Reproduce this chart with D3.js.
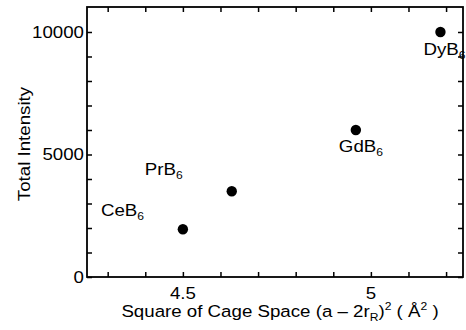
<!DOCTYPE html>
<html>
<head>
<meta charset="utf-8">
<script src="https://cdn.jsdelivr.net/npm/d3@7"></script>
<style>
  html, body { margin: 0; padding: 0; background: #fff; }
  text { font-family: "Liberation Sans", Arial, Helvetica, sans-serif; fill: #000; }
</style>
</head>
<body>
<svg id="chart" width="466" height="330"></svg>
<script>
// Hexaboride compounds: cage space squared vs. total intensity
const compounds = ["CeB", "PrB", "GdB", "DyB"];
const compoundSub = ["6", "6", "6", "6"];
const cageSpace = [4.5, 4.63, 4.96, 5.185];
const intensity = [1950, 3500, 6000, 10000];

const xTickValues = [4.3, 4.4, 4.5, 4.6, 4.7, 4.8, 4.9, 5.0, 5.1, 5.2];
const xTickLabels = { "4.5": "4.5", "5": "5" };
const yTickValues = [0, 1000, 2000, 3000, 4000, 5000, 6000, 7000, 8000, 9000, 10000];
const yTickLabels = { "0": "0", "5000": "5000", "10000": "10000" };

// label placement relative to each marker (px)
const labelOffsets = [[-82, -13], [-87, -16], [-17, 22], [-17, 23]];

const plotLeft = 87, plotRight = 463, plotTop = 7, plotBottom = 277;
const fontSize = 17, stretch = 1.1;

const svg = d3.select("#chart");
const x = d3.scaleLinear().domain([4.245, 5.245]).range([plotLeft, plotRight]);
const y = d3.scaleLinear().domain([0, 11020]).range([plotBottom, plotTop]);

const tickLen = 5;
const axisStyle = g => {
  g.select(".domain").remove();
  g.selectAll(".tick line").attr("stroke", "#000").attr("stroke-width", 1.5);
};

// inward ticks on all four sides
svg.append("g").attr("transform", `translate(0,${plotBottom})`)
  .call(d3.axisBottom(x).tickValues(xTickValues).tickSize(-tickLen).tickFormat(""))
  .call(axisStyle);
svg.append("g").attr("transform", `translate(0,${plotTop})`)
  .call(d3.axisTop(x).tickValues(xTickValues).tickSize(-tickLen).tickFormat(""))
  .call(axisStyle);
svg.append("g").attr("transform", `translate(${plotLeft},0)`)
  .call(d3.axisLeft(y).tickValues(yTickValues).tickSize(-tickLen).tickFormat(""))
  .call(axisStyle);
svg.append("g").attr("transform", `translate(${plotRight},0)`)
  .call(d3.axisRight(y).tickValues(yTickValues).tickSize(-tickLen).tickFormat(""))
  .call(axisStyle);

// frame
svg.append("rect")
  .attr("x", plotLeft).attr("y", plotTop)
  .attr("width", plotRight - plotLeft).attr("height", plotBottom - plotTop)
  .attr("fill", "none").attr("stroke", "#000").attr("stroke-width", 1.8);

// tick labels
xTickValues.filter(v => xTickLabels[String(+v.toFixed(1))] !== undefined).forEach(v => {
  svg.append("text")
    .attr("transform", `translate(${x(v)},299) scale(${stretch},1)`)
    .attr("text-anchor", "middle")
    .attr("font-size", fontSize)
    .text(xTickLabels[String(+v.toFixed(1))]);
});
yTickValues.filter(v => yTickLabels[String(v)] !== undefined).forEach(v => {
  svg.append("text")
    .attr("transform", `translate(${plotLeft - 3},${y(v) + 6}) scale(${stretch},1)`)
    .attr("text-anchor", "end")
    .attr("font-size", fontSize)
    .text(yTickLabels[String(v)]);
});

// axis titles
svg.append("text")
  .attr("transform", `translate(30,${(plotTop + plotBottom) / 2 + 2}) rotate(-90) scale(${stretch},1)`)
  .attr("text-anchor", "middle")
  .attr("font-size", fontSize)
  .text("Total Intensity");

const xTitle = svg.append("text")
  .attr("transform", `translate(280,317) scale(${stretch},1)`)
  .attr("text-anchor", "middle")
  .attr("font-size", fontSize);
xTitle.append("tspan").text("Square of Cage Space (a \u2013 2r");
xTitle.append("tspan").attr("font-size", 11).attr("dy", 4).text("R");
xTitle.append("tspan").attr("dy", -4).text(")");
xTitle.append("tspan").attr("font-size", 11).attr("dy", -7).text("2");
xTitle.append("tspan").attr("dy", 7).text(" ( \u00C5");
xTitle.append("tspan").attr("font-size", 11).attr("dy", -7).text("2");
xTitle.append("tspan").attr("dy", 7).text(" )");

// markers
svg.append("g").selectAll("circle")
  .data(cageSpace)
  .join("circle")
  .attr("cx", d => x(d))
  .attr("cy", (d, i) => y(intensity[i]))
  .attr("r", 5.2)
  .attr("fill", "#000");

// compound labels
compounds.forEach((name, i) => {
  const t = svg.append("text")
    .attr("transform", `translate(${x(cageSpace[i]) + labelOffsets[i][0]},${y(intensity[i]) + labelOffsets[i][1]}) scale(${stretch},1)`)
    .attr("font-size", fontSize);
  t.append("tspan").text(name);
  t.append("tspan").attr("font-size", 11).attr("dy", 4).text(compoundSub[i]);
});
</script>
</body>
</html>
